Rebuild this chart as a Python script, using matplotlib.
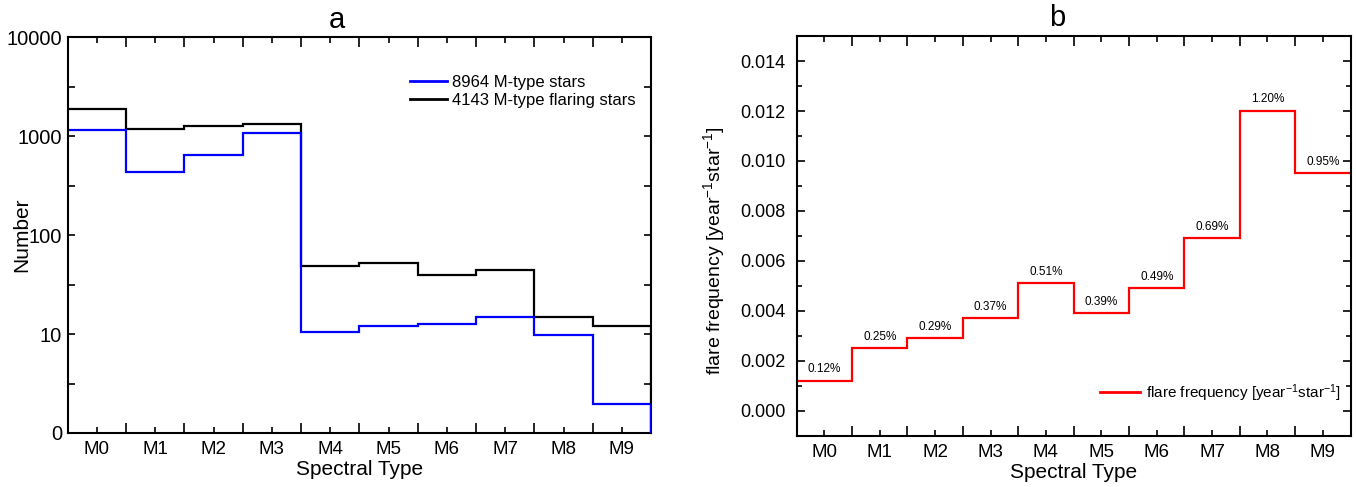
import numpy as np
import matplotlib
matplotlib.use("Agg")
from matplotlib import pyplot as plt
from matplotlib.ticker import FixedLocator, FixedFormatter

plt.rcParams['font.family'] = ['Liberation Sans', 'DejaVu Sans']
plt.rcParams['mathtext.fontset'] = 'custom'
plt.rcParams['mathtext.rm'] = 'Liberation Sans'
plt.rcParams['mathtext.it'] = 'Liberation Sans'

# data
spectral_types = ["M0", "M1", "M2", "M3", "M4", "M5", "M6", "M7", "M8", "M9"]
all_stars = [1151, 436, 655, 1073, 10.4, 12.1, 12.6, 15.0, 9.9, 1.96]
flaring_stars = [1890, 1188, 1265, 1347, 48.6, 51.8, 39.7, 44.3, 15.0, 12.1]
flare_freq = [0.0012, 0.0025, 0.0029, 0.0037, 0.0051, 0.0039, 0.0049, 0.0069, 0.0120, 0.0095]
freq_labels = ["0.12%", "0.25%", "0.29%", "0.37%", "0.51%", "0.39%", "0.49%", "0.69%", "1.20%", "0.95%"]

n = len(spectral_types)
centers = np.arange(n)
edges = np.arange(n + 1) - 0.5

fig = plt.figure(figsize=(13.56, 4.87), dpi=100)
ax1 = fig.add_axes([0.0499, 0.111, 0.4302, 0.812])
ax2 = fig.add_axes([0.5875, 0.105, 0.4085, 0.821])


def style_x(ax):
    ax.set_xlim(edges[0], edges[-1])
    ax.xaxis.set_major_locator(FixedLocator(centers))
    ax.xaxis.set_major_formatter(FixedFormatter(spectral_types))
    ax.xaxis.set_minor_locator(FixedLocator(edges[1:-1]))
    ax.tick_params(axis='x', which='major', direction='in', length=4, width=1.2,
                   top=True, labelsize=13.5, pad=6)
    ax.tick_params(axis='x', which='minor', direction='in', length=7, width=1.2, top=True)
    for s in ax.spines.values():
        s.set_linewidth(1.5)


# ---- panel a
lw = 1.6
ax1.stairs(flaring_stars, edges, baseline=None, color='black', lw=lw, label="4143 M-type flaring stars")
ax1.stairs(all_stars, edges, baseline=None, color='#0000ff', lw=lw, label="8964 M-type stars")
ax1.vlines(edges[-1], 1, flaring_stars[-1], color='black', lw=lw, zorder=3)
ax1.vlines(edges[-1], 1, all_stars[-1], color='#0000ff', lw=lw, zorder=3)
ax1.set_yscale('log')
ax1.set_ylim(1, 10000)
ax1.yaxis.set_major_locator(FixedLocator([1, 10, 100, 1000, 10000]))
ax1.yaxis.set_major_formatter(FixedFormatter(["0", "10", "100", "1000", "10000"]))
ax1.yaxis.set_minor_locator(FixedLocator([10 ** (k + 0.5) for k in range(4)]))
ax1.yaxis.set_minor_formatter(FixedFormatter([]))
ax1.tick_params(axis='y', which='both', direction='in', length=5, width=1.2, right=True,
                labelsize=14.5, pad=4)
style_x(ax1)
ax1.set_xlabel("Spectral Type", fontsize=15, labelpad=1)
ax1.set_ylabel("Number", fontsize=15)
ax1.yaxis.set_label_coords(-0.062, 0.5)
ax1.set_title("a", fontsize=21, x=0.462, pad=7)
h, l = ax1.get_legend_handles_labels()
ax1.legend(h[::-1], l[::-1], loc='upper left', bbox_to_anchor=(0.587, 0.905), frameon=False,
           fontsize=12, handlelength=2.2, handletextpad=0.3, labelspacing=0.15,
           borderpad=0, borderaxespad=0)
for line in ax1.get_legend().get_lines():
    line.set_linewidth(2)

# ---- panel b
ax2.stairs(flare_freq, edges, baseline=None, color='#ff0000', lw=lw,
           label="flare frequency [year$^{\\mathrm{-1}}$star$^{\\mathrm{-1}}$]")
for x, y, t in zip(centers, flare_freq, freq_labels):
    ax2.annotate(t, (x, y), xytext=(0, 4), textcoords='offset points',
                 ha='center', va='bottom', fontsize=8.5)
ax2.set_ylim(-0.001, 0.015)
ax2.yaxis.set_major_locator(FixedLocator(np.arange(0, 0.0141, 0.002)))
ax2.yaxis.set_major_formatter(FixedFormatter(["%.3f" % v for v in np.arange(0, 0.0141, 0.002)]))
ax2.yaxis.set_minor_locator(FixedLocator(np.arange(-0.001, 0.0151, 0.002)))
ax2.tick_params(axis='y', which='major', direction='in', length=6, width=1.2, right=True,
                labelsize=13, pad=8)
ax2.tick_params(axis='y', which='minor', direction='in', length=3.5, width=1.2, right=True)
style_x(ax2)
ax2.set_xlabel("Spectral Type", fontsize=15, labelpad=1)
ax2.set_ylabel("flare frequency [year$^{\\mathrm{-1}}$star$^{\\mathrm{-1}}$]", fontsize=14)
ax2.yaxis.set_label_coords(-0.126, 0.4625)
ax2.set_title("b", fontsize=21, x=0.471, pad=7)
ax2.legend(loc='center left', bbox_to_anchor=(0.548, 0.1075), frameon=False,
           fontsize=11, handlelength=2.6, handletextpad=0.4, borderpad=0, borderaxespad=0)
for line in ax2.get_legend().get_lines():
    line.set_linewidth(2)

fig.savefig("out.png", dpi=100)
